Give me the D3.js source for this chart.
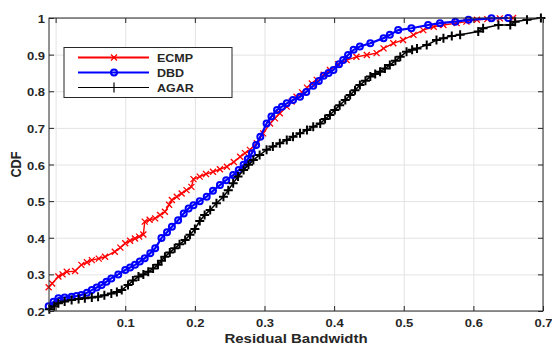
<!DOCTYPE html>
<html>
<head>
<meta charset="utf-8">
<script src="https://cdn.jsdelivr.net/npm/d3@7"></script>
<style>
  body { margin: 0; background: #fff; }
  text { font-family: "Liberation Sans", Arial, sans-serif; font-weight: bold; fill: #262626; }
</style>
</head>
<body>
<svg id="chart"></svg>
<script>
// values: [residual bandwidth, CDF]
var ecmp = [[-0.010,0.265],[-0.005,0.275],[0.004,0.294],[0.010,0.300],[0.016,0.307],[0.028,0.309],[0.037,0.326],[0.045,0.333],[0.052,0.339],[0.062,0.343],[0.071,0.348],[0.085,0.362],[0.093,0.373],[0.100,0.385],[0.107,0.392],[0.114,0.398],[0.120,0.403],[0.126,0.409],[0.128,0.444],[0.135,0.449],[0.143,0.453],[0.150,0.462],[0.157,0.471],[0.163,0.490],[0.167,0.503],[0.174,0.512],[0.181,0.521],[0.188,0.530],[0.195,0.539],[0.198,0.560],[0.207,0.567],[0.216,0.574],[0.226,0.580],[0.236,0.587],[0.246,0.594],[0.256,0.607],[0.265,0.621],[0.272,0.631],[0.279,0.640],[0.289,0.658],[0.298,0.685],[0.308,0.712],[0.315,0.726],[0.322,0.740],[0.332,0.758],[0.339,0.772],[0.346,0.785],[0.354,0.797],[0.361,0.810],[0.368,0.821],[0.375,0.831],[0.385,0.845],[0.394,0.858],[0.406,0.874],[0.418,0.885],[0.432,0.894],[0.447,0.899],[0.461,0.904],[0.471,0.917],[0.485,0.931],[0.499,0.940],[0.514,0.954],[0.528,0.967],[0.543,0.976],[0.557,0.981],[0.576,0.986],[0.590,0.990],[0.605,0.995],[0.620,0.997],[0.638,0.999],[0.657,1.0]];

var dbd = [[-0.010,0.213],[-0.003,0.225],[0.004,0.235],[0.013,0.237],[0.023,0.239],[0.030,0.241],[0.037,0.244],[0.045,0.250],[0.052,0.257],[0.059,0.264],[0.066,0.271],[0.073,0.280],[0.080,0.289],[0.090,0.300],[0.100,0.312],[0.107,0.319],[0.114,0.326],[0.121,0.335],[0.128,0.344],[0.136,0.358],[0.143,0.371],[0.152,0.399],[0.160,0.415],[0.167,0.430],[0.176,0.448],[0.184,0.466],[0.191,0.480],[0.198,0.489],[0.207,0.500],[0.217,0.512],[0.226,0.528],[0.236,0.544],[0.245,0.557],[0.255,0.571],[0.263,0.585],[0.270,0.599],[0.276,0.615],[0.282,0.631],[0.288,0.653],[0.294,0.676],[0.303,0.712],[0.310,0.731],[0.318,0.749],[0.325,0.758],[0.332,0.767],[0.341,0.776],[0.351,0.785],[0.360,0.798],[0.370,0.815],[0.378,0.828],[0.385,0.842],[0.392,0.850],[0.399,0.858],[0.407,0.874],[0.413,0.885],[0.420,0.899],[0.428,0.913],[0.437,0.922],[0.452,0.931],[0.471,0.945],[0.480,0.954],[0.492,0.967],[0.511,0.972],[0.535,0.981],[0.552,0.986],[0.574,0.990],[0.593,0.995],[0.626,0.999],[0.650,1.0]];

var agar = [[-0.009,0.205],[-0.002,0.213],[0.004,0.221],[0.013,0.226],[0.023,0.230],[0.033,0.233],[0.042,0.235],[0.052,0.237],[0.061,0.239],[0.070,0.243],[0.080,0.248],[0.088,0.252],[0.095,0.257],[0.104,0.271],[0.111,0.283],[0.119,0.294],[0.126,0.300],[0.133,0.307],[0.140,0.316],[0.147,0.326],[0.152,0.337],[0.157,0.348],[0.164,0.360],[0.171,0.371],[0.178,0.382],[0.186,0.394],[0.193,0.408],[0.200,0.424],[0.207,0.446],[0.214,0.462],[0.222,0.476],[0.231,0.494],[0.241,0.512],[0.248,0.530],[0.255,0.549],[0.262,0.567],[0.270,0.585],[0.277,0.599],[0.284,0.612],[0.293,0.626],[0.303,0.640],[0.312,0.649],[0.322,0.658],[0.332,0.667],[0.341,0.676],[0.351,0.685],[0.361,0.694],[0.370,0.703],[0.380,0.712],[0.387,0.724],[0.394,0.735],[0.401,0.749],[0.408,0.762],[0.416,0.776],[0.423,0.790],[0.430,0.803],[0.437,0.817],[0.445,0.829],[0.452,0.840],[0.459,0.847],[0.466,0.853],[0.473,0.862],[0.480,0.872],[0.488,0.883],[0.495,0.894],[0.504,0.908],[0.512,0.913],[0.519,0.917],[0.533,0.926],[0.547,0.940],[0.557,0.945],[0.569,0.951],[0.581,0.954],[0.607,0.963],[0.614,0.972],[0.636,0.981],[0.653,0.981],[0.660,0.990],[0.677,0.995],[0.697,1.0]];

var seriesNames = ["ECMP", "DBD", "AGAR"];
var xTicks = [0, 0.1, 0.2, 0.3, 0.4, 0.5, 0.6, 0.7];
var yTicks = [0.2, 0.3, 0.4, 0.5, 0.6, 0.7, 0.8, 0.9, 1];

var width = 552, height = 345;
var plotLeft = 49, plotRight = 543, plotTop = 18, plotBottom = 311;
var squash = "scale(1,0.85)";

var svg = d3.select("#chart").attr("width", width).attr("height", height);

var x = d3.scaleLinear().domain([-0.0095, 0.7]).range([plotLeft, plotRight]);
var y = d3.scaleLinear().domain([0.2, 1]).range([plotBottom, plotTop]);

// grid
svg.append("g")
  .attr("transform", "translate(0," + plotBottom + ")")
  .call(d3.axisBottom(x).tickValues(xTicks).tickSize(-(plotBottom - plotTop)).tickFormat(""))
  .call(function (g) {
    g.select(".domain").remove();
    g.selectAll("line").attr("stroke", "#e3e3e3");
  });
svg.append("g")
  .attr("transform", "translate(" + plotLeft + ",0)")
  .call(d3.axisLeft(y).tickValues(yTicks).tickSize(-(plotRight - plotLeft)).tickFormat(""))
  .call(function (g) {
    g.select(".domain").remove();
    g.selectAll("line").attr("stroke", "#e3e3e3");
  });

var styles = [
  { data: ecmp, color: "#ff0000", width: 1.4, marker: "x" },
  { data: dbd, color: "#0000ff", width: 2.2, marker: "o" },
  { data: agar, color: "#000000", width: 1.5, marker: "+" }
];

var line = d3.line()
  .x(function (d) { return x(d[0]); })
  .y(function (d) { return y(d[1]); });

function drawMarker(sel, type, color) {
  if (type === "o") {
    sel.append("circle").attr("r", 3)
      .attr("fill", "none").attr("stroke", color).attr("stroke-width", 2);
  } else if (type === "x") {
    sel.append("path").attr("d", "M-3,-3L3,3M-3,3L3,-3")
      .attr("fill", "none").attr("stroke", color).attr("stroke-width", 1.3);
  } else {
    sel.append("path").attr("d", "M-4.5,0L4.5,0M0,-4.5L0,4.5")
      .attr("fill", "none").attr("stroke", color).attr("stroke-width", 2);
  }
}

var plot = svg.append("g");
styles.forEach(function (s) {
  plot.append("path")
    .datum(s.data)
    .attr("fill", "none")
    .attr("stroke", s.color)
    .attr("stroke-width", s.width)
    .attr("d", line);

  var marks = plot.append("g").selectAll("g")
    .data(s.data)
    .enter()
    .append("g")
    .attr("transform", function (d) { return "translate(" + x(d[0]) + "," + y(d[1]) + ")"; });
  drawMarker(marks, s.marker, s.color);
});

// axes with inward ticks
svg.append("g")
  .attr("transform", "translate(0," + plotBottom + ")")
  .call(d3.axisBottom(x).tickValues(xTicks).tickSize(-5).tickSizeOuter(0)
    .tickFormat(function (d) { return d === 0 ? "" : d3.format(".1f")(d); }))
  .call(function (g) {
    g.select(".domain").remove();
    g.selectAll("line").attr("stroke", "#262626");
    g.selectAll("text")
      .attr("y", null).attr("dy", null)
      .attr("transform", "translate(0,16) " + squash)
      .style("font-size", "13px");
  });
svg.append("g")
  .attr("transform", "translate(" + plotLeft + ",0)")
  .call(d3.axisLeft(y).tickValues(yTicks).tickSize(-5).tickSizeOuter(0).tickFormat(d3.format("~g")))
  .call(function (g) {
    g.select(".domain").remove();
    g.selectAll("line").attr("stroke", "#262626");
    g.selectAll("text")
      .attr("x", null).attr("dy", null)
      .attr("text-anchor", "end")
      .attr("transform", "translate(-4,4.6) " + squash)
      .style("font-size", "13px");
  });
svg.append("g")
  .attr("transform", "translate(0," + plotTop + ")")
  .call(d3.axisTop(x).tickValues(xTicks).tickSize(-5).tickSizeOuter(0).tickFormat(""))
  .call(function (g) {
    g.select(".domain").remove();
    g.selectAll("line").attr("stroke", "#262626");
  });
svg.append("g")
  .attr("transform", "translate(" + plotRight + ",0)")
  .call(d3.axisRight(y).tickValues(yTicks).tickSize(-5).tickSizeOuter(0).tickFormat(""))
  .call(function (g) {
    g.select(".domain").remove();
    g.selectAll("line").attr("stroke", "#262626");
  });

svg.append("rect")
  .attr("x", plotLeft).attr("y", plotTop)
  .attr("width", plotRight - plotLeft).attr("height", plotBottom - plotTop)
  .attr("fill", "none").attr("stroke", "#262626").attr("stroke-width", 1);

// axis titles
svg.append("text")
  .attr("transform", "translate(" + ((plotLeft + plotRight) / 2) + ",343) " + squash)
  .attr("text-anchor", "middle")
  .style("font-size", "15px")
  .text("Residual Bandwidth");
svg.append("text")
  .attr("transform", "translate(21," + ((plotTop + plotBottom) / 2) + ") " + squash + " rotate(-90)")
  .attr("text-anchor", "middle")
  .style("font-size", "15px")
  .text("CDF");

// legend
var legend = svg.append("g");
legend.append("rect")
  .attr("x", 64).attr("y", 47.5).attr("width", 168).attr("height", 50)
  .attr("fill", "#fff").attr("stroke", "#262626").attr("stroke-width", 1);

var rows = legend.selectAll(".legend")
  .data(styles)
  .enter()
  .append("g")
  .attr("class", "legend")
  .attr("transform", function (d, i) { return "translate(0," + (57.5 + i * 15) + ")"; });

rows.append("line")
  .attr("x1", 78).attr("x2", 149)
  .attr("stroke", function (d) { return d.color; })
  .attr("stroke-width", function (d) { return d.marker === "+" ? 1.2 : 2; });

rows.each(function (d) {
  var m = d3.select(this).append("g").attr("transform", "translate(114,0)");
  if (d.marker === "+") {
    m.append("path").attr("d", "M0,-5L0,5").attr("stroke", d.color).attr("stroke-width", 1.2);
  } else {
    drawMarker(m, d.marker, d.color);
  }
});

rows.append("text")
  .attr("transform", "translate(157,4.3) " + squash)
  .style("font-size", "12.5px")
  .text(function (d, i) { return seriesNames[i]; });
</script>
</body>
</html>
